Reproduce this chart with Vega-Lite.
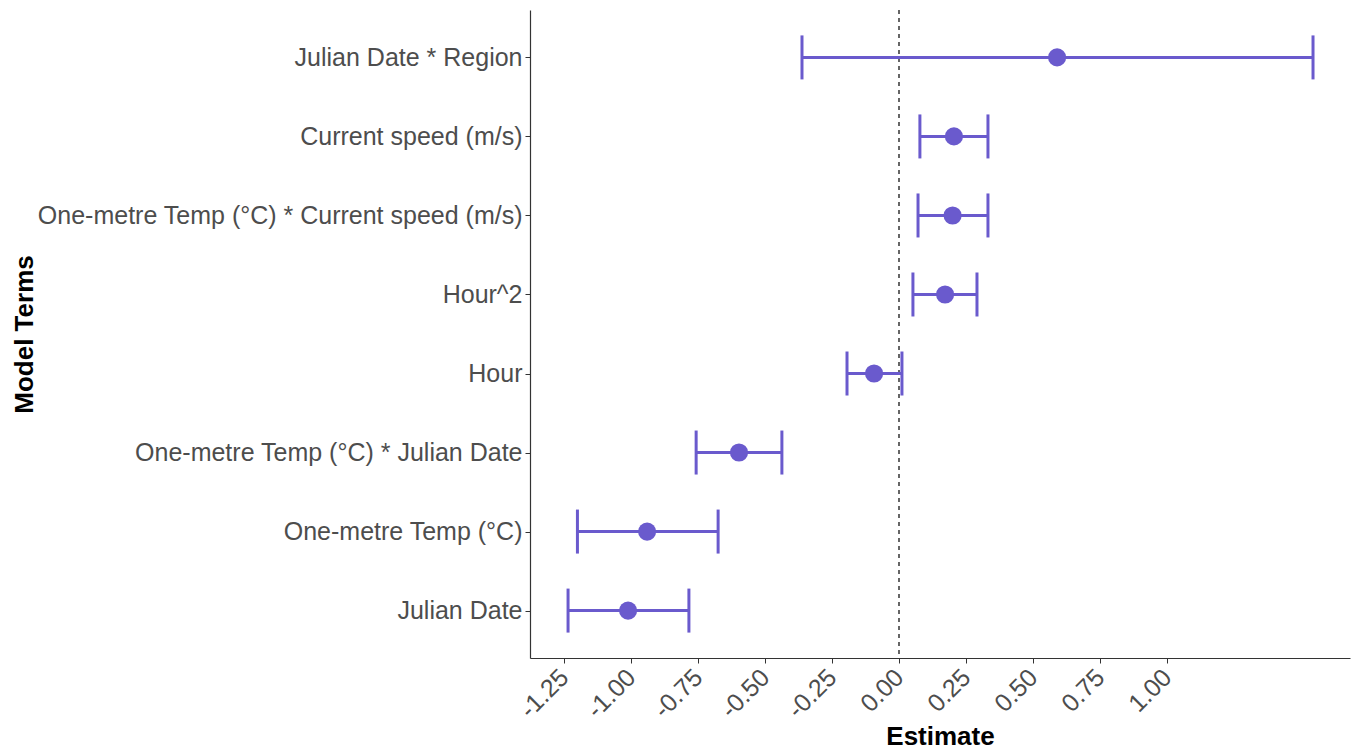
{
  "$schema": "https://vega.github.io/schema/vega-lite/v6.json",
  "autosize": "none",
  "width": 820,
  "height": 648,
  "padding": {"left": 530, "top": 10, "right": 7, "bottom": 91},
  "background": "white",
  "config": {
    "view": {"stroke": null},
    "font": "Liberation Sans"
  },
  "data": {
    "values": [
      {"term": "Julian Date * Region", "est": 0.59, "lo": -0.362, "hi": 1.545},
      {"term": "Current speed (m/s)", "est": 0.205, "lo": 0.078, "hi": 0.332},
      {"term": "One-metre Temp (°C) * Current speed (m/s)", "est": 0.2, "lo": 0.071, "hi": 0.332},
      {"term": "Hour^2", "est": 0.172, "lo": 0.052, "hi": 0.291},
      {"term": "Hour", "est": -0.093, "lo": -0.194, "hi": 0.011},
      {"term": "One-metre Temp (°C) * Julian Date", "est": -0.597, "lo": -0.757, "hi": -0.437},
      {"term": "One-metre Temp (°C)", "est": -0.94, "lo": -1.2, "hi": -0.675},
      {"term": "Julian Date", "est": -1.011, "lo": -1.235, "hi": -0.784}
    ]
  },
  "encoding": {
    "y": {
      "field": "term",
      "type": "nominal",
      "sort": null,
      "scale": {"type": "point", "padding": 0.6},
      "axis": {
        "title": "Model Terms",
        "titleFontSize": 26,
        "titleFontWeight": "bold",
        "titleColor": "black",
        "titleX": -493,
        "titleY": 324,
        "titleAngle": -90,
        "titleAlign": "center",
        "titleBaseline": "bottom",
        "labelFontSize": 25,
        "labelColor": "#4d4d4d",
        "labelPadding": 3,
        "labelLimit": 0,
        "tickColor": "#333333",
        "tickSize": 5,
        "domainColor": "#333333",
        "domainWidth": 1.2,
        "grid": false
      }
    }
  },
  "layer": [
    {
      "mark": {"type": "rule", "strokeDash": [4, 4], "color": "#666666", "strokeWidth": 1.2},
      "encoding": {"x": {"datum": 0}, "y": null}
    },
    {
      "mark": {"type": "rule", "color": "#6A5ACD", "strokeWidth": 3},
      "encoding": {
        "x": {
          "field": "lo",
          "type": "quantitative",
          "scale": {"domain": [-1.377, 1.683], "nice": false, "zero": false},
          "axis": {
            "title": "Estimate",
            "titleFontSize": 26,
            "titleFontWeight": "bold",
            "titleColor": "black",
            "titleY": 86,
            "titleBaseline": "alphabetic",
            "values": [-1.25, -1, -0.75, -0.5, -0.25, 0, 0.25, 0.5, 0.75, 1],
            "labelExpr": "replace(format(datum.value, '.2f'), '−', '-')",
            "labelAngle": -45,
            "labelAlign": "right",
            "labelBaseline": "middle",
            "labelFontSize": 25,
            "labelColor": "#4d4d4d",
            "labelPadding": 10,
            "labelFlush": false,
            "labelOverlap": false,
            "tickColor": "#333333",
            "tickSize": 5,
            "domainColor": "#333333",
            "domainWidth": 1.2,
            "grid": false
          }
        },
        "x2": {"field": "hi"}
      }
    },
    {
      "mark": {"type": "tick", "color": "#6A5ACD", "thickness": 3, "size": 44, "opacity": 1},
      "encoding": {"x": {"field": "lo", "type": "quantitative"}}
    },
    {
      "mark": {"type": "tick", "color": "#6A5ACD", "thickness": 3, "size": 44, "opacity": 1},
      "encoding": {"x": {"field": "hi", "type": "quantitative"}}
    },
    {
      "mark": {"type": "circle", "color": "#6A5ACD", "size": 330, "opacity": 1},
      "encoding": {"x": {"field": "est", "type": "quantitative"}}
    }
  ]
}
